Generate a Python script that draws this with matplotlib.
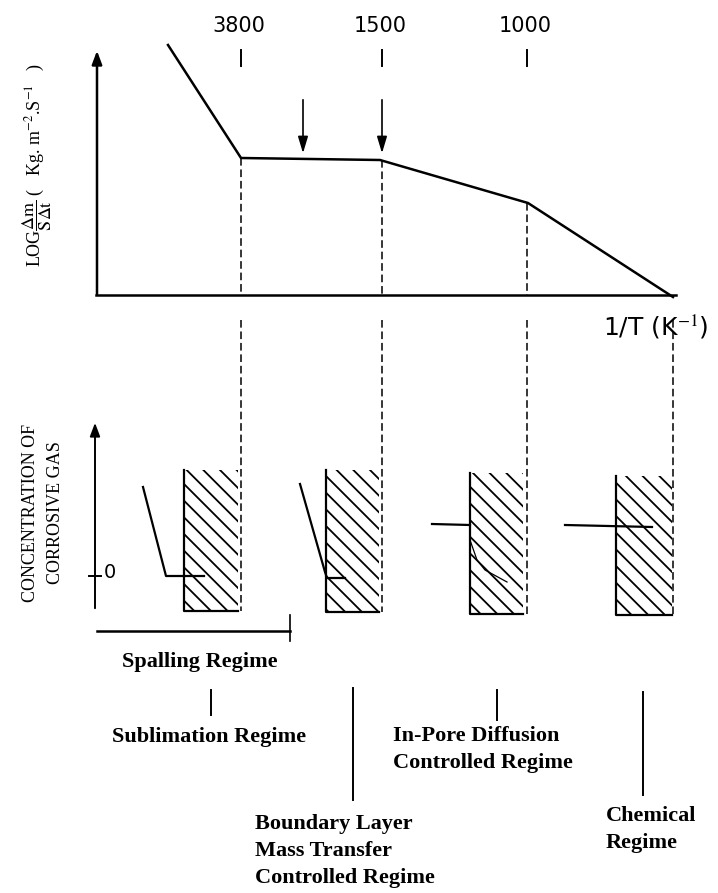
import matplotlib.pyplot as plt
from matplotlib.patches import Rectangle

# schematic, all values in picture units (x right, y down)
temp_labels = ['3800', '1500', '1000']
temp_x = [241, 382, 527]

# log rate vs 1/T curve
rate_x = [168, 241, 380, 528, 673]
rate_y = [45, 158, 160, 203, 297]

# regime boundaries (dashed lines) and specimen blocks
boundary_x = [241, 382, 527, 673]
boundary_top = [158, 160, 203, 297]
block_left = [184, 326, 470, 616]
block_right = [238, 379, 523, 672]
block_top = [470, 470, 473, 476]
block_bottom = [611, 612, 614, 615]

# concentration profiles for each regime
profiles = [
    ([143, 166, 204], [487, 576, 576]),
    ([300, 325, 327, 345], [484, 572, 578, 578]),
    ([432, 470], [524, 525]),
    ([565, 652], [525, 527]),
]
inpore_x = [470, 477, 485, 507]
inpore_y = [540, 560, 570, 582]

arrow_x = [303, 382]

regime_names = ['Sublimation Regime', 'Boundary Layer\nMass Transfer\nControlled Regime',
                'In-Pore Diffusion\nControlled Regime', 'Chemical\nRegime']
regime_bar_x = [211, 353, 497, 643]
regime_bar_top = [690, 688, 690, 692]
regime_bar_bottom = [715, 800, 720, 795]
regime_text_x = [112, 255, 393, 606]
regime_text_y = [727, 814, 726, 806]

W, H = 718, 893
fig = plt.figure(figsize=(W / 100, H / 100), dpi=100)
ax = fig.add_axes([0, 0, 1, 1])
ax.set_xlim(0, W)
ax.set_ylim(H, 0)
ax.axis('off')

k = 'black'
serif = 'Liberation Serif'
plt.rcParams['hatch.linewidth'] = 1.3
plt.rcParams['mathtext.fontset'] = 'stix'

# top chart axes
ax.annotate('', xy=(97, 48), xytext=(97, 297),
            arrowprops=dict(arrowstyle='-|>,head_width=0.3,head_length=0.8', color=k, lw=1.8))
ax.plot([96, 676], [295, 295], color=k, lw=1.8)
ax.plot(rate_x, rate_y, color=k, lw=1.8)

for x, top in zip(boundary_x[:3], boundary_top[:3]):
    ax.plot([x, x], [top, 295], color=k, lw=1.1, ls=(0, (5, 2.5)))

for x, lab in zip(temp_x, temp_labels):
    ax.plot([x, x], [50, 66], color=k, lw=1.4)
    ax.text(x - 2, 26, lab, ha='center', va='center', fontsize=15, family='DejaVu Sans')

for x in arrow_x:
    ax.annotate('', xy=(x, 156), xytext=(x, 97),
                arrowprops=dict(arrowstyle='-|>,head_width=0.3,head_length=1.0', color=k, lw=1.2))

ax.text(603, 327, '1/T (K$^{-1}$)', ha='left', va='center', fontsize=18, family='DejaVu Sans')

ax.text(37, 165, r'LOG$\dfrac{\mathrm{\Delta m}}{\mathrm{S\Delta t}}$ (   Kg. m$^{-2}$.S$^{-1}$   )',
        rotation=90, ha='center', va='center', fontsize=13, family=serif)

# lower section: dashed boundaries and blocks
for x, l, r, t, b in zip(boundary_x, block_left, block_right, block_top, block_bottom):
    ax.add_patch(Rectangle((l, t), r - l, b - t, facecolor='none', edgecolor=k,
                           hatch='\\\\', lw=0))
    ax.plot([l, l, r], [t, b, b], color=k, lw=1.6)
    ax.plot([x, x], [320, b], color=k, lw=1.1, ls=(0, (5, 2.5)))

for px, py in profiles:
    ax.plot(px, py, color=k, lw=1.6)
ax.plot(inpore_x, inpore_y, color=k, lw=0.9)

ax.annotate('', xy=(95, 420), xytext=(95, 611),
            arrowprops=dict(arrowstyle='-|>,head_width=0.3,head_length=0.8', color=k, lw=1.4))
ax.plot([89, 101], [576, 576], color=k, lw=1.4)
ax.text(104, 573, '0', ha='left', va='center', fontsize=14, family='DejaVu Sans')

ax.text(43, 513, 'CONCENTRATION OF\nCORROSIVE GAS', rotation=90, ha='center', va='center',
        fontsize=13, family=serif, linespacing=1.6)

# spalling range
ax.plot([97, 290], [631, 631], color=k, lw=1.8)
ax.plot([290, 290], [615, 641], color=k, lw=1.2)
ax.text(122, 662, 'Spalling Regime', ha='left', va='center', fontsize=16,
        family=serif, weight='bold')

for x, t, b in zip(regime_bar_x, regime_bar_top, regime_bar_bottom):
    ax.plot([x, x], [t, b], color=k, lw=1.4)
for name, x, y in zip(regime_names, regime_text_x, regime_text_y):
    ax.text(x, y, name, ha='left', va='top', fontsize=16, family=serif,
            weight='bold', linespacing=1.45)

fig.savefig('out.png', dpi=100)
